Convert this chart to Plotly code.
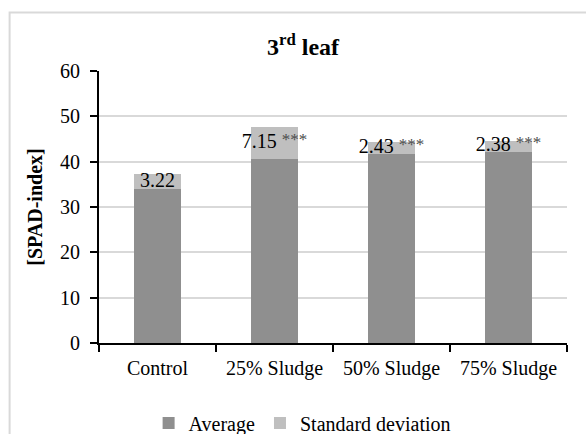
import plotly.graph_objects as go

# SPAD readings on the 3rd leaf: mean and standard deviation per treatment
categories = ["Control", "25% Sludge", "50% Sludge", "75% Sludge"]
average = [34.0, 40.6, 41.8, 42.2]
std_dev = [3.22, 7.15, 2.43, 2.38]
significance = ["", "***", "***", "***"]
y_ticks = [0, 10, 20, 30, 40, 50, 60]

FONT = "Liberation Serif"
DARK = "#8f8f8f"
LIGHT = "#bfbfbf"
GRID = "#d9d9d9"
TXT = 20

fig = go.Figure()
fig.add_trace(go.Bar(x=categories, y=average, name="Average",
                     marker=dict(color=DARK, line=dict(width=0))))
fig.add_trace(go.Bar(x=categories, y=std_dev, name="Standard deviation",
                     marker=dict(color=LIGHT, line=dict(width=0))))

# SD value labels centred on the SD segment, with significance stars
labels = []
for sd, sig in zip(std_dev, significance):
    txt = f"{sd:.2f}"
    if sig:
        txt += (" <span style='font-size:17px;fill:#4d4d4d;"
                f"baseline-shift:3px'>{sig}</span>")
    labels.append(txt)
fig.add_trace(go.Scatter(
    x=categories,
    y=[a + s / 2 for a, s in zip(average, std_dev)],
    mode="text", text=labels, textposition="middle center",
    textfont=dict(family=FONT, size=TXT, color="#000000"),
    showlegend=False, hoverinfo="skip", cliponaxis=False,
))

fig.update_layout(
    width=586, height=434,
    margin=dict(l=99, r=19, t=71, b=91, autoexpand=False),
    paper_bgcolor="white", plot_bgcolor="white",
    barmode="stack", bargap=0.6,
    font=dict(family=FONT, size=TXT, color="#000000"),
    title=dict(text="<b>3<sup>rd</sup> leaf</b>", x=303 / 586, y=1 - 47 / 434,
               xanchor="center", yanchor="middle",
               font=dict(family=FONT, size=24, color="#000000")),
    legend=dict(orientation="h", x=0.434, y=1 - 423 / 434, xref="paper",
                yref="container", xanchor="center", yanchor="middle",
                font=dict(family=FONT, size=TXT, color="#000000"),
                traceorder="normal", itemclick=False),
    shapes=[dict(type="rect", xref="paper", yref="paper",
                 x0=-0.191, x1=1.6, y0=-1.0, y1=1.215,
                 line=dict(color=GRID, width=2), layer="below")],
)

fig.update_xaxes(
    type="category", showline=True, linecolor="#000000", linewidth=2,
    ticks="outside", tickson="boundaries", ticklen=7, tickwidth=2,
    tickcolor="#000000", showgrid=False, ticklabelstandoff=6,
    tickfont=dict(family=FONT, size=TXT, color="#000000"),
)
fig.update_yaxes(
    range=[0, 60], tickvals=y_ticks, showline=True, linecolor="#000000",
    linewidth=2, ticks="outside", ticklen=7, tickwidth=2, tickcolor="#000000",
    showgrid=True, gridcolor=GRID, gridwidth=1.5, zeroline=False,
    ticklabelstandoff=6,
    tickfont=dict(family=FONT, size=TXT, color="#000000"),
    title=dict(text="<b>[SPAD-index]</b>", standoff=12,
               font=dict(family=FONT, size=TXT, color="#000000")),
)

fig.write_html("out.html")
